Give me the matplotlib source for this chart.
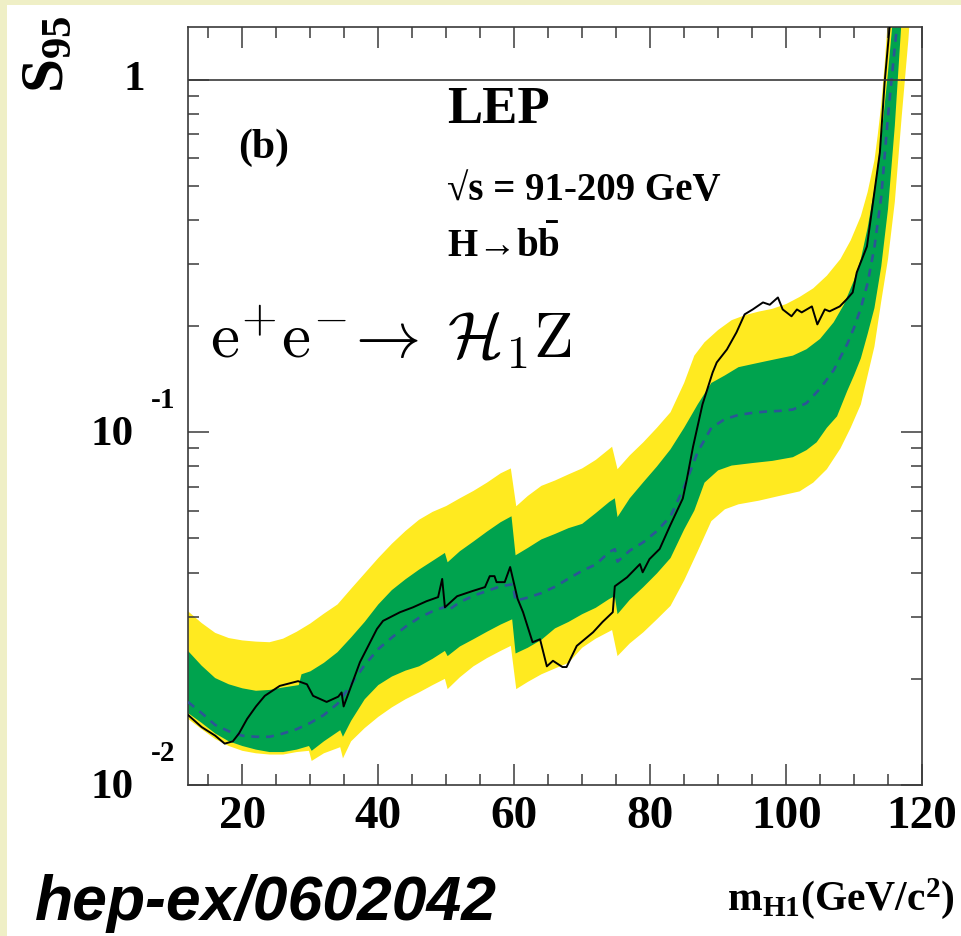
import numpy as np
import matplotlib
matplotlib.use("Agg")
import matplotlib.pyplot as plt
from matplotlib.ticker import MultipleLocator, LogLocator, NullFormatter, FixedLocator
from matplotlib.patches import Rectangle

# ---------------- data ----------------
# expected median limit (dashed)
exp_m = [12, 14, 16, 18, 20, 22, 24, 26, 28, 30, 32, 34, 36, 38, 40, 42, 44, 46, 48,
         49.8, 50.2, 52, 54, 56, 58, 59.8, 60.2, 62, 64, 66, 68, 70, 72, 74, 74.8, 75.2,
         77, 79, 81, 83, 85, 87, 89, 91, 93, 95, 97, 99, 101, 103, 105, 107, 109, 110,
         111, 112, 113, 114, 115, 116, 117]
exp_s = [0.0172, 0.0160, 0.0148, 0.0142, 0.0138, 0.0137, 0.0137, 0.0140, 0.0144, 0.0150,
         0.0158, 0.0170, 0.0193, 0.0219, 0.0243, 0.0262, 0.0281, 0.0298, 0.0311,
         0.0320, 0.0312, 0.0330, 0.0344, 0.0355, 0.0366, 0.0371, 0.0333, 0.0340, 0.0350,
         0.0365, 0.0385, 0.0405, 0.0422, 0.0458, 0.0466, 0.0430,
         0.0462, 0.0488, 0.0525, 0.0578, 0.0700, 0.0880, 0.1030, 0.1090, 0.1120, 0.1135,
         0.1145, 0.1150, 0.1160, 0.1210, 0.1330, 0.1500, 0.1780, 0.1980,
         0.2250, 0.2650, 0.3350, 0.4650, 0.7900, 1.2400, 1.9000]

# 1 sigma band (green)
g1_hi_m = [12, 14, 16, 18, 20, 22, 24, 26, 28.3, 28.7, 30, 32, 34, 36, 38, 40, 42, 44, 46, 48,
           49.8, 50.2, 52, 54, 56, 58, 59.6, 60.2, 62, 64, 66, 68, 70, 72, 74, 74.8, 75.2,
           77, 79, 81, 83, 85, 87, 89, 91, 93, 95, 97, 99, 101, 103, 105, 107, 108.5, 110,
           111, 112, 113, 114, 115, 116]
g1_hi_s = [0.0240, 0.0218, 0.0201, 0.0193, 0.0188, 0.0185, 0.0186, 0.0189, 0.0192, 0.0206,
           0.0210, 0.0222, 0.0238, 0.0262, 0.0290, 0.0325, 0.0357, 0.0383, 0.0408, 0.0432,
           0.0455, 0.0428, 0.0460, 0.0490, 0.0523, 0.0556, 0.0578, 0.0448, 0.0470, 0.0497,
           0.0515, 0.0535, 0.0550, 0.0590, 0.0635, 0.0650, 0.0575,
           0.0650, 0.0722, 0.0800, 0.0895, 0.1030, 0.1200, 0.1380, 0.1450, 0.1530, 0.1560,
           0.1590, 0.1620, 0.1650, 0.1720, 0.1840, 0.2050, 0.2300, 0.2700,
           0.3100, 0.3800, 0.4900, 0.6800, 1.0500, 1.7000]
g1_lo_m = [12, 14, 16, 18, 20, 22, 24, 26, 28, 29.8, 30.2, 32, 34.4, 34.8, 36, 38, 40, 42, 44,
           46, 48, 49.8, 50.2, 52, 54, 56, 58, 59.7, 60.2, 62, 64, 66, 68, 70, 72, 74, 74.8,
           75.2, 77, 79, 81, 83, 85, 86.5, 88, 90, 92, 95, 98, 101, 103, 104.5, 106, 107.5,
           109, 110, 111, 112, 113, 114, 115, 116, 117, 117.5]
g1_lo_s = [0.0160, 0.0150, 0.0140, 0.0133, 0.0129, 0.0126, 0.0124, 0.0124, 0.0126, 0.0129,
           0.0125, 0.0133, 0.0143, 0.0137, 0.0152, 0.0175, 0.0192, 0.0203, 0.0211,
           0.0217, 0.0228, 0.0240, 0.0232, 0.0247, 0.0259, 0.0272, 0.0285, 0.0295, 0.0236,
           0.0245, 0.0258, 0.0278, 0.0290, 0.0305, 0.0318, 0.0337, 0.0343,
           0.0305, 0.0335, 0.0364, 0.0398, 0.0440, 0.0530, 0.0600, 0.0720, 0.0780, 0.0805,
           0.0818, 0.0830, 0.0850, 0.0890, 0.0937, 0.1030, 0.1110,
           0.1310, 0.1450, 0.1620, 0.1900, 0.2250, 0.2950, 0.4300, 0.7400, 1.4800, 2.0000]

# 2 sigma band (yellow)
g2_hi_m = [12, 14, 16, 18, 20, 22, 24, 26, 28, 30, 32, 34, 36, 38, 40, 42, 44, 46, 48, 50,
           52, 54, 56, 58, 59.5, 60.3, 62, 64, 66, 68, 70, 72, 74.4, 75.2, 77, 79, 81, 83,
           85, 86.5, 88, 90, 92, 94, 96, 98, 100, 102, 104, 106, 108, 109.5, 111, 112, 113,
           113.5, 114, 114.5, 115, 115.8]
g2_hi_s = [0.0311, 0.0288, 0.0270, 0.0261, 0.0257, 0.0255, 0.0254, 0.0260, 0.0272, 0.0287,
           0.0306, 0.0325, 0.0360, 0.0398, 0.0440, 0.0483, 0.0525, 0.0565, 0.0595, 0.0618,
           0.0650, 0.0682, 0.0720, 0.0765, 0.0790, 0.0617, 0.0660, 0.0705, 0.0730, 0.0760,
           0.0790, 0.0835, 0.0910, 0.0786, 0.0860, 0.0937, 0.1030, 0.1140,
           0.1380, 0.1650, 0.1800, 0.1950, 0.2080, 0.2150, 0.2200, 0.2240, 0.2310, 0.2420,
           0.2560, 0.2780, 0.3100, 0.3500, 0.4100, 0.4800, 0.5900,
           0.7000, 0.8500, 1.1000, 1.5000, 2.0000]
g2_lo_m = [12, 14, 16, 18, 20, 22, 24, 26, 28, 29.8, 30.2, 32, 34.4, 34.8, 36, 38, 40, 42, 44,
           46, 48, 49.8, 50.2, 52, 54, 56, 58, 59.5, 60.3, 62, 64, 66, 68, 70, 72, 74.4, 75.2,
           77, 79, 81, 83, 85, 87, 89, 91, 93, 96, 99, 102, 104, 106, 108, 109.5, 111, 112,
           113, 114, 115, 116, 117, 118, 118.5]
g2_lo_s = [0.0154, 0.0144, 0.0135, 0.0129, 0.0125, 0.0123, 0.0122, 0.0122, 0.0124, 0.0125,
           0.0117, 0.0123, 0.0128, 0.0119, 0.0133, 0.0145, 0.0156, 0.0166, 0.0175,
           0.0183, 0.0192, 0.0200, 0.0187, 0.0202, 0.0217, 0.0229, 0.0240, 0.0248, 0.0187,
           0.0196, 0.0206, 0.0214, 0.0222, 0.0245, 0.0260, 0.0275, 0.0232,
           0.0252, 0.0271, 0.0295, 0.0322, 0.0380, 0.0460, 0.0560, 0.0605, 0.0625, 0.0640,
           0.0660, 0.0680, 0.0720, 0.0786, 0.0900, 0.1030, 0.1200, 0.1450,
           0.1750, 0.2350, 0.3100, 0.4500, 0.7800, 1.3000, 1.8000]

# observed limit (solid black)
obs_m = [12.0, 14.0, 16.0, 17.4, 18.6, 19.5, 20.7, 22.0, 23.3, 25.5, 28.2, 29.5, 30.4, 32.4,
         34.1, 34.6, 34.9, 37.3, 39.8, 40.7, 43.2, 45.1, 47.1, 48.8, 49.4, 49.8, 51.6,
         53.9, 55.7, 56.4, 57.1, 57.4, 58.6, 59.4, 60.5, 61.3, 62.7, 63.8, 64.8, 65.7,
         67.1, 67.7, 69.2, 71.6, 73.0, 74.5, 74.8, 76.6, 78.5, 78.9, 79.9, 81.4, 82.9,
         84.8, 85.4, 86.3, 87.7, 89.2, 89.8, 91.3, 92.7, 93.9, 95.1, 96.6, 97.6, 98.8,
         99.5, 100.8, 101.6, 102.3, 103.8, 104.6, 105.7, 106.4, 107.9, 108.9, 109.8,
         110.4, 111.9, 112.7, 113.8, 114.5, 115.2, 115.5]
obs_s = [0.0158, 0.0146, 0.0138, 0.0131, 0.0133, 0.0140, 0.0154, 0.0167, 0.0179, 0.0191,
         0.0197, 0.0193, 0.0179, 0.0172, 0.0178, 0.0183, 0.0167, 0.0223, 0.0277, 0.0292,
         0.0309, 0.0319, 0.0332, 0.0341, 0.0384, 0.0319, 0.0343, 0.0355, 0.0364, 0.0391,
         0.0391, 0.0376, 0.0376, 0.0415, 0.0337, 0.0309, 0.0254, 0.0259, 0.0217, 0.0225,
         0.0216, 0.0216, 0.0248, 0.0271, 0.0290, 0.0309, 0.0366, 0.0388, 0.0423, 0.0401,
         0.0437, 0.0467, 0.0542, 0.0649, 0.0736, 0.0908, 0.1200, 0.1479, 0.1578, 0.1718,
         0.1920, 0.2160, 0.2231, 0.2335, 0.2300, 0.2412, 0.2231, 0.2133, 0.2230, 0.2188,
         0.2275, 0.2023, 0.2231, 0.2203, 0.2275, 0.2381, 0.2492, 0.2840, 0.3365, 0.4365,
         0.6211, 0.9800, 1.3860, 1.6000]

x_major = [20, 40, 60, 80, 100, 120]
x_labels = ["20", "40", "60", "80", "100", "120"]
y_label_vals = [1.0, 0.1, 0.01]

# ---------------- style ----------------
plt.rcParams['font.family'] = ['Liberation Serif', 'DejaVu Serif']
plt.rcParams['font.weight'] = 'bold'
plt.rcParams['mathtext.fontset'] = 'custom'
plt.rcParams['mathtext.rm'] = 'Liberation Serif:bold'
plt.rcParams['mathtext.bf'] = 'Liberation Serif:bold'
plt.rcParams['mathtext.it'] = 'Liberation Serif:italic:bold'

YELLOW = '#FFEA20'
GREEN = '#00A34E'
DASH = '#2C5596'
AXC = '#3a3a3a'

W, H = 961, 936
fig = plt.figure(figsize=(W / 100, H / 100), dpi=100, facecolor='white')


def fx(px):
    return px / W


def fy(py):
    return 1 - py / H


# light yellow border of the slide
fig.patches.append(Rectangle((0, 0), fx(7), 1, transform=fig.transFigure,
                             facecolor='#efefc6', edgecolor='none', zorder=0))
fig.patches.append(Rectangle((0, fy(5)), 1, 5 / H, transform=fig.transFigure,
                             facecolor='#efefc6', edgecolor='none', zorder=0))

ax = fig.add_axes([fx(188), fy(785), fx(922) - fx(188), fy(27) - fy(785)])
ax.set_facecolor('white')

# bands as polygons (upper edge forward, lower edge backward)
ax.fill(list(g2_hi_m) + list(g2_lo_m[::-1]), list(g2_hi_s) + list(g2_lo_s[::-1]),
        color=YELLOW, lw=0, zorder=1)
ax.fill(list(g1_hi_m) + list(g1_lo_m[::-1]), list(g1_hi_s) + list(g1_lo_s[::-1]),
        color=GREEN, lw=0, zorder=2)
ax.plot(exp_m, exp_s, color=DASH, lw=1.9, ls=(0, (3, 2.6)), zorder=3)
ax.plot(obs_m, obs_s, color='black', lw=1.4, zorder=4)
ax.axhline(1.0, color=AXC, lw=1.2, zorder=5)

ax.set_yscale('log')
ax.set_xlim(12, 120)
ax.set_ylim(0.01, 1.41)

ax.xaxis.set_major_locator(FixedLocator(x_major))
ax.xaxis.set_minor_locator(MultipleLocator(5))
ax.set_xticklabels(x_labels)
ax.yaxis.set_major_locator(LogLocator(base=10, numticks=10))
ax.yaxis.set_minor_locator(LogLocator(base=10, subs=np.arange(2, 10), numticks=20))
ax.yaxis.set_major_formatter(NullFormatter())
ax.yaxis.set_minor_formatter(NullFormatter())

ax.tick_params(which='both', direction='in', top=True, right=True, color=AXC, width=1.1)
ax.tick_params(which='major', length=15, pad=8)
ax.tick_params(which='minor', length=8)
ax.tick_params(axis='x', labelsize=34)
for lab in ax.get_xticklabels():
    lab.set_fontweight('bold')
for sp in ax.spines.values():
    sp.set_color(AXC)
    sp.set_linewidth(1.2)

# y tick labels in ROOT style ("10" with a detached exponent)
ax.annotate("1", xy=(0, y_label_vals[0]), xycoords=('axes fraction', 'data'),
            xytext=(-31, 0), textcoords='offset points', ha='right', va='center',
            fontsize=31, fontweight='bold')
for val, ex in zip(y_label_vals[1:], ["-1", "-2"]):
    ax.annotate("10", xy=(0, val), xycoords=('axes fraction', 'data'),
                xytext=(-39, -2), textcoords='offset points', ha='right', va='center',
                fontsize=31, fontweight='bold')
    ax.annotate(ex, xy=(0, val), xycoords=('axes fraction', 'data'),
                xytext=(-27, 23), textcoords='offset points', ha='left', va='center',
                fontsize=21, fontweight='bold')

# axis titles
fig.text(fx(48), fy(54), r"$\mathbf{S}_{\mathbf{95}}$", rotation=90, ha='center',
         va='center', fontsize=44)
fig.text(fx(955), fy(910), r"m$_{\rm H1}$(GeV/c$^{\rm 2}$)", ha='right',
         va='baseline', fontsize=30, fontweight='bold')

# annotations inside the frame
fig.text(fx(238), fy(158), "(b)", fontsize=30, fontweight='bold', va='baseline')
fig.text(fx(447), fy(123), "LEP", fontsize=38, fontweight='bold', va='baseline')
fig.text(fx(447), fy(200), "\u221as = 91-209 GeV", fontsize=28, fontweight='bold',
         va='baseline')
fig.text(fx(447), fy(257), "H\u2192b" + r"$\bar{\rm b}$", fontsize=28,
         fontweight='bold', va='baseline')
fig.text(fx(210), fy(358), r"$\mathrm{e^{+}e^{-}}\!\rightarrow\;\mathcal{H}_{1}\mathrm{Z}$",
         fontsize=47, va='baseline', math_fontfamily='cm')

fig.text(fx(35), fy(920), "hep-ex/0602042", fontsize=45, fontweight='bold',
         fontstyle='italic', family='Liberation Sans', va='baseline', color='black')

fig.savefig("out.png", dpi=100, facecolor='white')
